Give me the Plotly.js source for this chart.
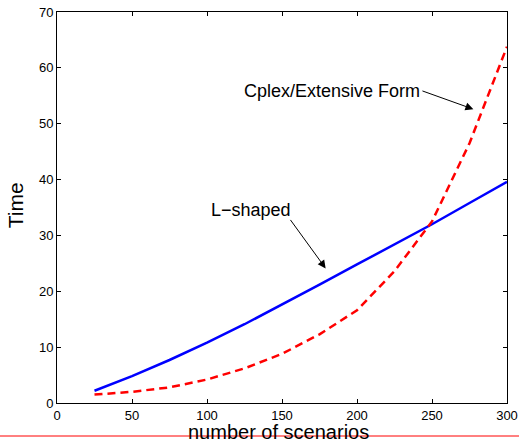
<!DOCTYPE html>
<html>
<head>
<meta charset="utf-8">
<script src="https://cdn.plot.ly/plotly-3.0.1.min.js"></script>
<style>html,body{margin:0;padding:0;background:#fff;}#chart{width:519px;height:440px;}</style>
</head>
<body>
<div id="chart"></div>
<script>
const scenarios = [25, 50, 75, 100, 125, 150, 175, 200, 225, 250, 275, 300];
const lShaped = [2.2, 4.8, 7.7, 10.8, 14.1, 17.6, 21.2, 24.8, 28.4, 32.0, 35.8, 39.6];
const cplexEF = [1.5, 2.0, 2.8, 4.2, 6.2, 8.8, 12.3, 16.6, 23.6, 32.5, 46.5, 63.8];
const xTicks = [0, 50, 100, 150, 200, 250, 300];
const yTicks = [0, 10, 20, 30, 40, 50, 60, 70];
const xTitle = 'number of scenarios';
const yTitle = 'Time';

const font = {family: 'Liberation Sans, Arial, sans-serif', color: '#000'};

const traces = [
  {x: scenarios, y: lShaped, mode: 'lines', name: 'L-shaped',
   line: {color: '#0000ff', width: 2.5}},
  {x: scenarios, y: cplexEF, mode: 'lines', name: 'Cplex/Extensive Form',
   line: {color: '#ff0000', width: 2.5, dash: '8px,5px'}}
];

const axisCommon = {
  showgrid: false, zeroline: false, showline: true, linecolor: '#000', linewidth: 1,
  mirror: 'ticks', ticks: 'inside', ticklen: 4, tickcolor: '#000', tickwidth: 1,
  tickfont: Object.assign({size: 13}, font)
};

const layout = {
  width: 519, height: 440,
  margin: {l: 57, r: 12, t: 12, b: 37},
  paper_bgcolor: '#fff', plot_bgcolor: '#fff',
  showlegend: false,
  font: font,
  xaxis: Object.assign({}, axisCommon, {
    range: [0, 300], tickvals: xTicks, ticktext: xTicks.map(String)
  }),
  yaxis: Object.assign({}, axisCommon, {
    range: [0, 70], tickvals: yTicks, ticktext: yTicks.map(String)
  }),
  annotations: [
    {x: 0.493, y: -0.075, xref: 'paper', yref: 'paper', text: xTitle, showarrow: false,
     xanchor: 'center', yanchor: 'middle', font: Object.assign({size: 20}, font)},
    {x: -0.093, y: 0.506, xref: 'paper', yref: 'paper', text: yTitle, showarrow: false, textangle: -90,
     xanchor: 'center', yanchor: 'middle', font: Object.assign({size: 21}, font)},
    {x: 277.6, y: 52.6, ax: 243.3, ay: 55.9, axref: 'x', ayref: 'y', xref: 'x', yref: 'y',
     text: ' ', font: {size: 1}, borderpad: 0, showarrow: true, arrowhead: 2, arrowsize: 1.6, arrowwidth: 1,
     arrowcolor: '#000', standoff: 0, startstandoff: 0},
    {x: 243.1, y: 55.9, xref: 'x', yref: 'y', text: 'Cplex/Extensive Form', showarrow: false,
     xanchor: 'right', yanchor: 'middle', font: Object.assign({size: 18}, font)},
    {x: 179.1, y: 24.1, ax: 155.3, ay: 32.9, axref: 'x', ayref: 'y', xref: 'x', yref: 'y',
     text: ' ', font: {size: 1}, borderpad: 0, showarrow: true, arrowhead: 2, arrowsize: 1.6, arrowwidth: 1,
     arrowcolor: '#000', standoff: 0, startstandoff: 0},
    {x: 101.5, y: 34.6, xref: 'x', yref: 'y', text: 'L\u2212shaped', showarrow: false,
     xanchor: 'left', yanchor: 'middle', font: Object.assign({size: 18}, font)}
  ],
  shapes: [
    {type: 'line', xref: 'paper', yref: 'paper', x0: -0.1267, x1: 1.0267, y0: -0.0844, y1: -0.0844,
     line: {color: '#ff0000', width: 1}, layer: 'above'}
  ]
};

Plotly.newPlot('chart', traces, layout, {staticPlot: true, displayModeBar: false});
</script>
</body>
</html>
